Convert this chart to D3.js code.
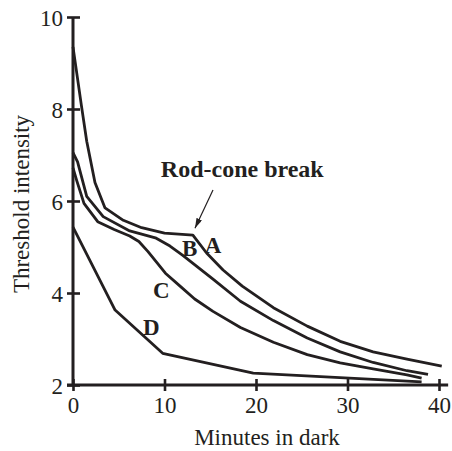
<!DOCTYPE html>
<html>
<head>
<meta charset="utf-8">
<script src="https://cdn.jsdelivr.net/npm/d3@7"></script>
<style>
  html, body { margin: 0; padding: 0; background: #fff; }
  svg { display: block; }
  text { font-family: "Liberation Serif", "Times New Roman", serif; fill: #231f20; }
</style>
</head>
<body>
<svg id="chart" width="452" height="451"></svg>
<script>
// Dark adaptation curves: threshold intensity vs minutes in dark
const xTicks = [0, 10, 20, 30, 40];
const yTicks = [2, 4, 6, 8, 10];

const curveA = [[0,9.35],[0.9,8.1],[1.5,7.3],[2.4,6.4],[3.5,5.85],[5.5,5.58],[7.5,5.42],[10,5.3],[13.1,5.26],[14.6,4.87],[16.4,4.5],[18.5,4.15],[21.9,3.68],[25.6,3.28],[29.2,2.95],[32.8,2.72],[36.5,2.56],[40.3,2.41]];
const curveB = [[0,7.05],[0.5,6.85],[1.5,6.1],[3.3,5.66],[6.2,5.35],[9,5.2],[10.6,5.02],[12,4.82],[15.3,4.3],[18.3,3.82],[21.9,3.4],[25.6,3.02],[29.2,2.72],[32.8,2.49],[36.5,2.31],[38.8,2.23]];
const curveC = [[0,6.72],[0.4,6.45],[1.2,5.95],[2.7,5.55],[4.5,5.38],[6.2,5.24],[7.2,5.12],[8.2,4.9],[10.1,4.43],[11.7,4.15],[13.3,3.87],[15.3,3.6],[18.3,3.25],[21.9,2.93],[25.6,2.66],[29.2,2.48],[32.8,2.35],[36.5,2.22],[38.1,2.15]];
const curveD = [[0,5.43],[4.6,3.63],[9.8,2.69],[19.7,2.26],[38.1,2.07]];

const curveNames = ["A", "B", "C", "D"];
const labelPos = [[14.4,4.87],[11.9,4.8],[8.75,3.89],[7.65,3.09]];
const breakText = "Rod-cone break";
const breakTextPos = [9.6, 6.52];
const breakArrow = [[15.3, 6.24], [13.33, 5.41]];

const svg = d3.select("#chart");
const ink = "#231f20";

const x = d3.scaleLinear().domain([0, 40]).range([73, 439]);
const y = d3.scaleLinear().domain([2, 10]).range([385, 17]);

// axes
const gx = svg.append("g").attr("transform", `translate(0,${y(2)})`)
  .call(d3.axisBottom(x).tickValues(xTicks).tickSize(6).tickPadding(6));
gx.select(".domain").remove();
gx.selectAll(".tick line").attr("y1", -6).attr("y2", 6).attr("stroke", ink).attr("stroke-width", 2.6);
gx.selectAll(".tick text").attr("font-size", 23).attr("fill", ink)
  .attr("font-family", "Liberation Serif").attr("dy", "0.71em");

const gy = svg.append("g").attr("transform", `translate(${x(0)},0)`)
  .call(d3.axisLeft(y).tickValues(yTicks).tickSize(6).tickPadding(4));
gy.select(".domain").remove();
gy.selectAll(".tick line").attr("x1", -6).attr("x2", 7).attr("stroke", ink).attr("stroke-width", 2.6);
gy.selectAll(".tick text").attr("font-size", 23).attr("fill", ink)
  .attr("font-family", "Liberation Serif").attr("dy", "0.36em");

svg.append("line")
  .attr("x1", x(0) - 6).attr("x2", x(41)).attr("y1", y(2)).attr("y2", y(2))
  .attr("stroke", ink).attr("stroke-width", 3);
svg.append("line")
  .attr("x1", x(0)).attr("x2", x(0)).attr("y1", y(10)).attr("y2", y(2))
  .attr("stroke", ink).attr("stroke-width", 3);

// axis titles
svg.append("text")
  .attr("x", 267).attr("y", 445).attr("text-anchor", "middle")
  .attr("font-size", 23).text("Minutes in dark");
svg.append("text")
  .attr("transform", "translate(29,204) rotate(-90)")
  .attr("text-anchor", "middle").attr("font-size", 23).text("Threshold intensity");

// curves
const line = d3.line().x(d => x(d[0])).y(d => y(d[1])).curve(d3.curveLinear);
[curveA, curveB, curveC, curveD].forEach(c => {
  svg.append("path").datum(c)
    .attr("d", line).attr("fill", "none")
    .attr("stroke", ink).attr("stroke-width", 2.8)
    .attr("stroke-linejoin", "round").attr("stroke-linecap", "butt");
});

// curve labels
curveNames.forEach((n, i) => {
  svg.append("text")
    .attr("x", x(labelPos[i][0])).attr("y", y(labelPos[i][1]))
    .attr("font-size", 23).attr("font-weight", "bold").text(n);
});

// rod-cone break annotation
svg.append("text")
  .attr("x", x(breakTextPos[0])).attr("y", y(breakTextPos[1]))
  .attr("font-size", 24).attr("font-weight", "bold").text(breakText);

svg.append("defs").append("marker")
  .attr("id", "arrowhead").attr("viewBox", "0 0 10 6")
  .attr("refX", 10).attr("refY", 3)
  .attr("markerWidth", 10).attr("markerHeight", 6)
  .attr("markerUnits", "userSpaceOnUse").attr("orient", "auto")
  .append("path").attr("d", "M0,0 L10,3 L0,6 Z").attr("fill", ink);

svg.append("line")
  .attr("x1", x(breakArrow[0][0])).attr("y1", y(breakArrow[0][1]))
  .attr("x2", x(breakArrow[1][0])).attr("y2", y(breakArrow[1][1]))
  .attr("stroke", ink).attr("stroke-width", 1.2)
  .attr("marker-end", "url(#arrowhead)");
</script>
</body>
</html>
